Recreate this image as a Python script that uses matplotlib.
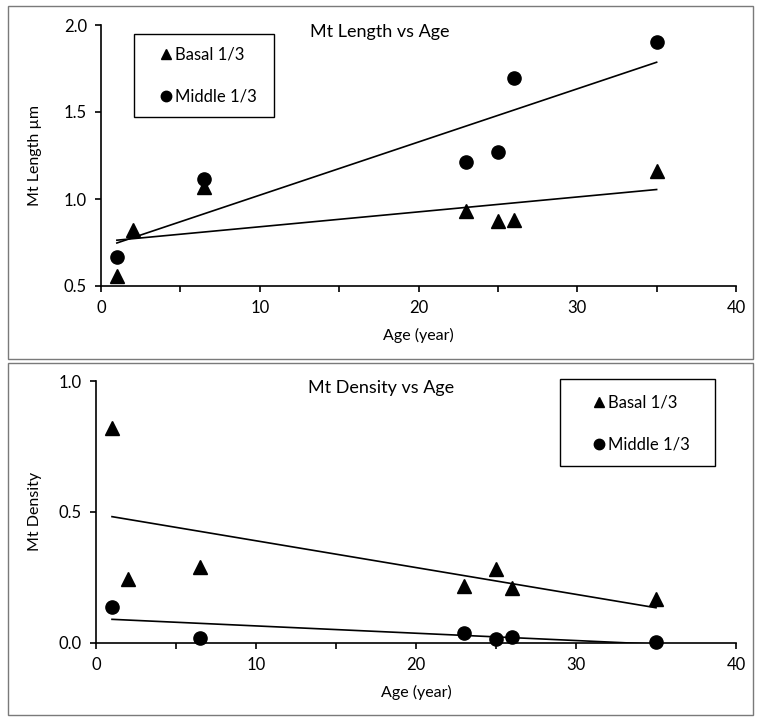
import matplotlib
matplotlib.use('Agg')
import matplotlib.pyplot as plt
from matplotlib.patches import Rectangle
from matplotlib.lines import Line2D
import numpy as np

plt.rcParams['font.family'] = ['Lato', 'DejaVu Sans']

# data
age_basal = [1, 2, 6.5, 23, 25, 26, 35]
age_middle = [1, 6.5, 23, 25, 26, 35]

length_basal = [0.56, 0.82, 1.07, 0.93, 0.875, 0.88, 1.163]
length_middle = [0.667, 1.113, 1.213, 1.272, 1.694, 1.90]

density_basal = [0.822, 0.242, 0.29, 0.218, 0.282, 0.21, 0.166]
density_middle = [0.136, 0.017, 0.038, 0.013, 0.02, 0.003]

labels = ['Basal 1/3', 'Middle 1/3']

W, H = 762, 724
fig = plt.figure(figsize=(W / 100, H / 100), dpi=100)


def fx(px):
    return px / W


def fy(py):
    return 1 - py / H


def panel(frame, axbox, yb, ym, ylim, yticks, ylabel, title, title_xy, leg_box, leg_mark_x, leg_ys, ylab_x):
    # grey outer frame
    x0, y0, x1, y1 = frame
    fig.add_artist(Rectangle((fx(x0), fy(y1)), fx(x1) - fx(x0), fy(y0) - fy(y1),
                             transform=fig.transFigure, fill=False, edgecolor='#7a7a7a', lw=1.0))

    l, t, r, b = axbox
    ax = fig.add_axes([fx(l), fy(b), fx(r) - fx(l), fy(t) - fy(b)])
    ax.set_xlim(0, 40)
    ax.set_ylim(*ylim)

    # linear trendlines (least squares, like Excel)
    for xs, ys in [(age_basal, yb), (age_middle, ym)]:
        k, c = np.polyfit(xs, ys, 1)
        xx = np.array([min(xs), max(xs)])
        ax.plot(xx, k * xx + c, color='black', lw=1.2, zorder=2)

    ax.plot(age_basal, yb, '^', color='black', ms=9.5, clip_on=False, zorder=4)
    ax.plot(age_middle, ym, 'o', color='black', ms=9.5, clip_on=False, zorder=4)

    for s in ['top', 'right']:
        ax.spines[s].set_visible(False)
    for s in ['left', 'bottom']:
        ax.spines[s].set_linewidth(1.2)

    ax.set_xticks(np.arange(0, 41, 10))
    ax.set_xticks(np.arange(5, 40, 10), minor=True)
    ax.set_yticks(yticks)
    ax.set_yticklabels([f'{v:.1f}' for v in yticks])
    ax.tick_params(which='both', direction='out', length=4, width=1.2, labelsize=12, color='black')
    ax.tick_params(axis='x', pad=6)
    ax.tick_params(axis='y', pad=6)

    ax.set_xlabel('Age (year)', fontsize=11.5)
    ax.xaxis.set_label_coords(0.5, -0.16)
    ax.set_ylabel(ylabel, fontsize=11.5)
    ax.yaxis.set_label_coords(ylab_x, 0.5)

    fig.text(fx(title_xy[0]), fy(title_xy[1]), title, ha='center', va='center', fontsize=13)

    # legend box
    lx0, ly0, lx1, ly1 = leg_box
    fig.add_artist(Rectangle((fx(lx0), fy(ly1)), fx(lx1) - fx(lx0), fy(ly0) - fy(ly1),
                             transform=fig.transFigure, fill=False, edgecolor='black', lw=1.0))
    for mk, lab, ly in zip(['^', 'o'], labels, leg_ys):
        fig.add_artist(Line2D([fx(leg_mark_x)], [fy(ly)], marker=mk, ms=7.5, color='black',
                              linestyle='none', transform=fig.transFigure))
        fig.text(fx(leg_mark_x + 9), fy(ly), lab, ha='left', va='center', fontsize=12)
    return ax


panel(frame=(8, 6, 753, 358.5), axbox=(101, 25, 736, 286),
      yb=length_basal, ym=length_middle, ylim=(0.5, 2.0), yticks=[0.5, 1.0, 1.5, 2.0],
      ylabel='Mt Length µm', title='Mt Length vs Age', title_xy=(380, 32),
      leg_box=(134, 34, 274, 117), leg_mark_x=166, leg_ys=(54, 96), ylab_x=-0.093)

panel(frame=(8, 363, 753, 715), axbox=(96, 381, 736, 642.7),
      yb=density_basal, ym=density_middle, ylim=(0.0, 1.0), yticks=[0.0, 0.5, 1.0],
      ylabel='Mt Density', title='Mt Density vs Age', title_xy=(381, 388),
      leg_box=(560, 379, 715, 466), leg_mark_x=599, leg_ys=(402, 444), ylab_x=-0.084)

fig.savefig('out.png', dpi=100)
